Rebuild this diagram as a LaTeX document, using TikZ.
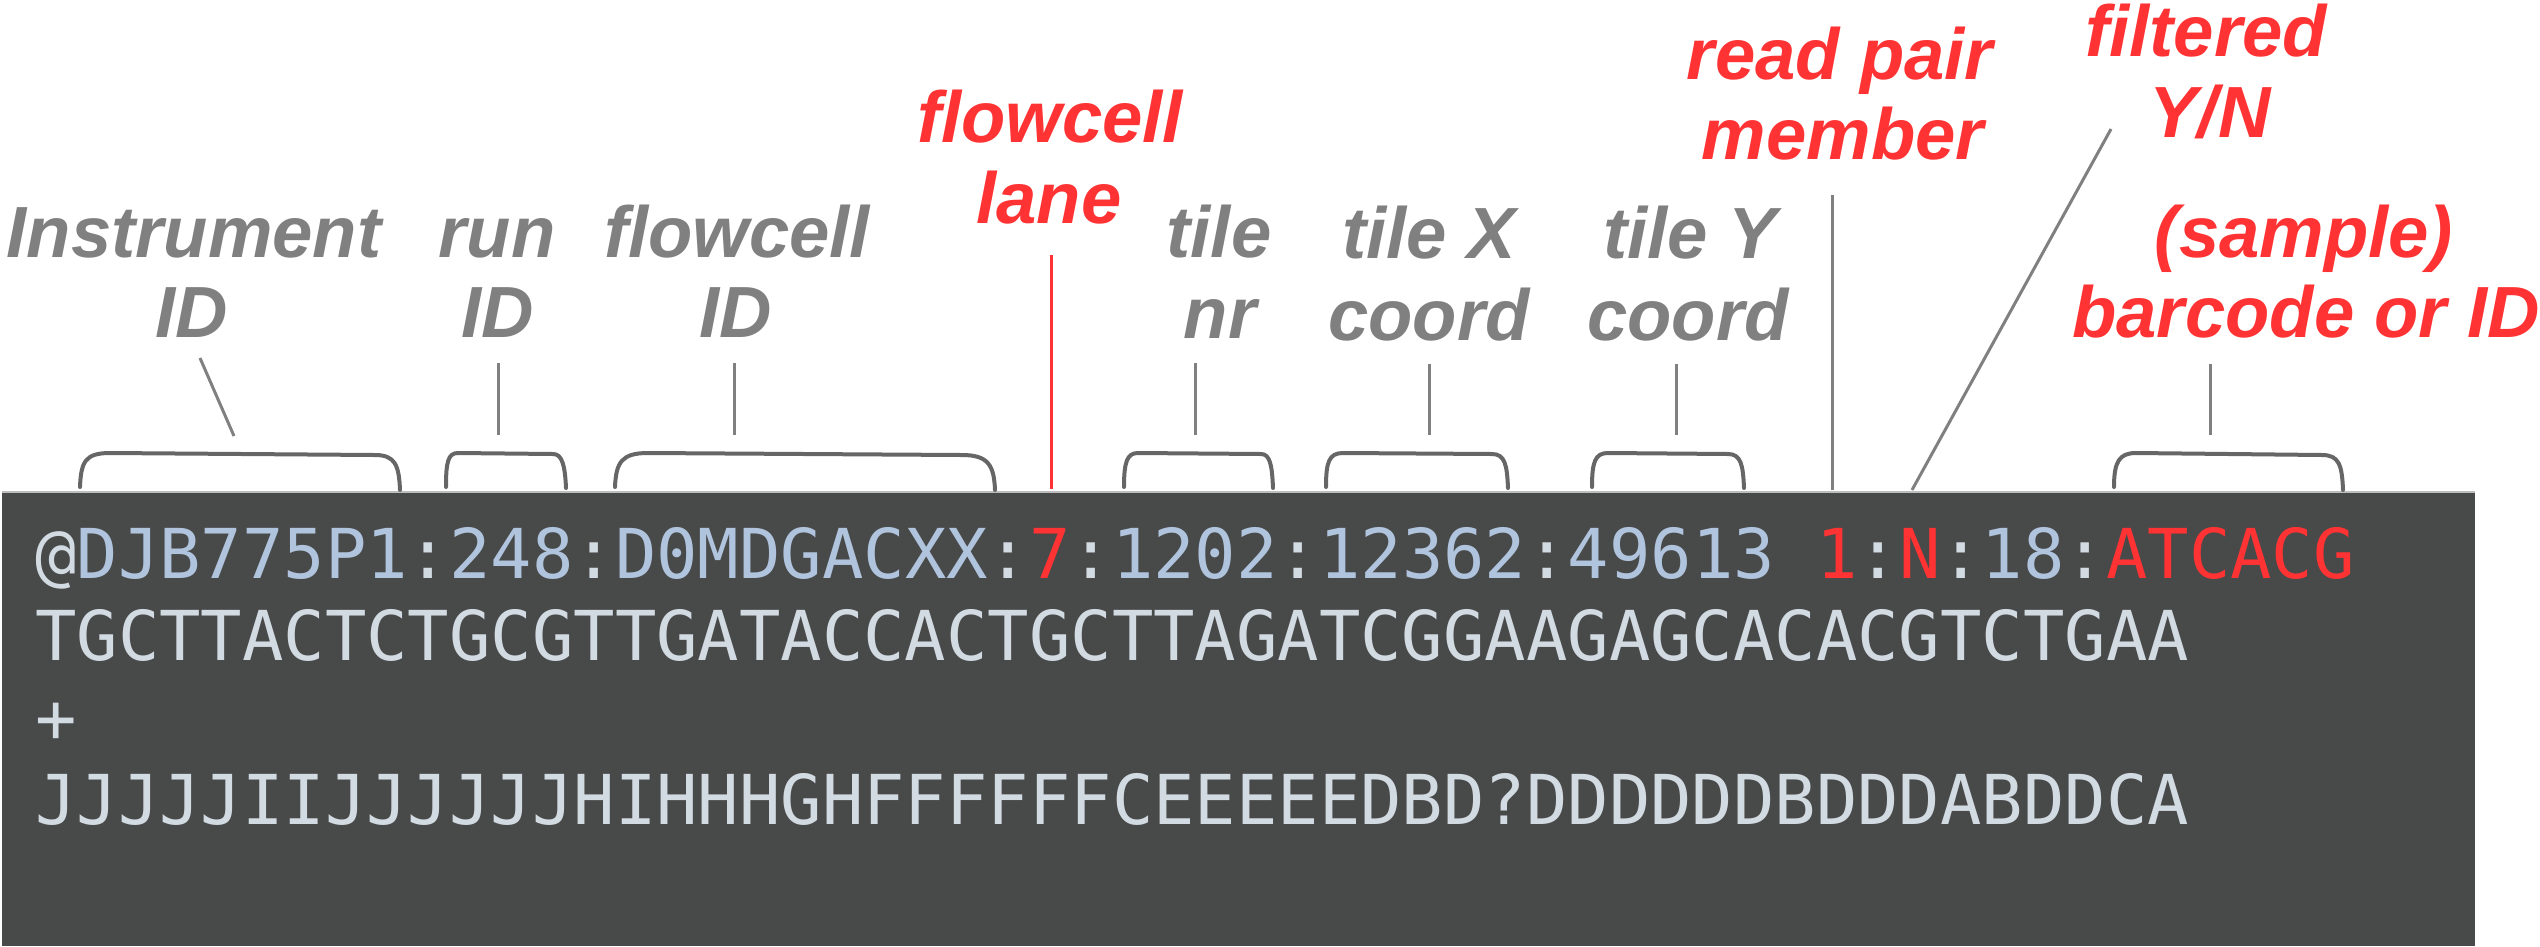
\documentclass[tikz,border=0pt]{standalone}
\usepackage{fontspec}
\setmainfont{Liberation Sans}
\newfontfamily\monof{DejaVu Sans Mono}
\definecolor{boxbg}{HTML}{484949}
\definecolor{boxedge}{HTML}{BDBDBD}
\definecolor{seqblue}{HTML}{B0C4DE}
\definecolor{seqlight}{HTML}{D2DAE2}
\definecolor{hired}{HTML}{FF3333}
\definecolor{labgray}{HTML}{808080}
\definecolor{bracegray}{HTML}{666666}
\newcommand{\Lt}[1]{\textcolor{seqlight}{#1}}
\newcommand{\Bl}[1]{\textcolor{seqblue}{#1}}
\newcommand{\Rd}[1]{\textcolor{hired}{#1}}
\tikzset{
  lab/.style={font=\fontsize{72.5}{80}\selectfont\bfseries\itshape, inner sep=0pt, anchor=base},
  glab/.style={lab, text=labgray},
  rlab/.style={lab, text=hired},
  seq/.style={font=\monof\fontsize{68.8}{82}\selectfont, inner sep=0pt, anchor=base west, text=seqlight},
  conn/.style={draw=labgray, line width=3pt},
  rconn/.style={draw=hired, line width=3pt},
  bracket/.style={draw=bracegray, line width=4pt, line cap=round, line join=round},
}
\begin{document}
\begin{tikzpicture}[x=1pt,y=-1pt]
\useasboundingbox (0,0) rectangle (2540,946);
% dark box
\fill[boxbg] (2,492) rectangle (2475,946);
\draw[boxedge, line width=2pt] (2,492) -- (2475,492);

% sequence text
\node[seq] (l1) at (35,578) {\Lt{@}\Bl{DJB775P1}\Lt{:}\Bl{248}\Lt{:}\Bl{D0MDGACXX}\Lt{:}\Rd{7}\Lt{:}\Bl{1202}\Lt{:}\Bl{12362}\Lt{:}\Bl{49613} \Rd{1}\Lt{:}\Rd{N}\Lt{:}\Bl{18}\Lt{:}\Rd{ATCACG}};
\node[seq] (l2) at (35,660) {TGCTTACTCTGCGTTGATACCACTGCTTAGATCGGAAGAGCACACGTCTGAA};
\node[seq] (l3) at (35,742) {+};
\node[seq] (l4) at (35,824) {JJJJJIIJJJJJJHIHHHGHFFFFFFCEEEEEDBD?DDDDDDBDDDABDDCA};

% labels
\node[glab] (inst1) at (194,257) {Instrument};
\node[glab] (inst2) at (192,337) {ID};
\node[glab] (run1) at (497,257) {run};
\node[glab] (run2) at (498,337) {ID};
\node[glab] (fc1) at (737,257) {flowcell};
\node[glab] (fc2) at (736,337) {ID};
\node[rlab] (lane1) at (1050,142) {flowcell};
\node[rlab] (lane2) at (1049,223) {lane};
\node[glab] (tile1) at (1219,257) {tile};
\node[glab] (tile2) at (1220,338) {nr};
\node[glab] (tx1) at (1429,258) {tile X};
\node[glab] (tx2) at (1429,340) {coord};
\node[glab] (ty1) at (1690,258) {tile Y};
\node[glab] (ty2) at (1688,340) {coord};
\node[rlab] (rp1) at (1840,79) {read pair};
\node[rlab] (rp2) at (1843,159) {member};
\node[rlab] (fl1) at (2206,56) {filtered};
\node[rlab] (fl2) at (2210,137) {Y/N};
\node[rlab] (bc1) at (2304,257) {(sample)};
\node[rlab] (bc2) at (2306,337) {barcode or ID};

% connector end points
\coordinate (instA) at (200,358); \coordinate (instB) at (234,436);
\coordinate (runA) at (498,363);  \coordinate (runB) at (498,435);
\coordinate (fcA) at (734,363);   \coordinate (fcB) at (734,435);
\coordinate (laneA) at (1051,255); \coordinate (laneB) at (1051,489);
\coordinate (tileA) at (1195,363); \coordinate (tileB) at (1195,435);
\coordinate (txA) at (1429,364);  \coordinate (txB) at (1429,435);
\coordinate (tyA) at (1676,364);  \coordinate (tyB) at (1676,435);
\coordinate (rpA) at (1832,195);  \coordinate (rpB) at (1832,490);
\coordinate (flA) at (2111,129);  \coordinate (flB) at (1912,490);
\coordinate (bcA) at (2210,364);  \coordinate (bcB) at (2210,435);

\draw[conn] (instA) -- (instB);
\draw[conn] (runA) -- (runB);
\draw[conn] (fcA) -- (fcB);
\draw[rconn] (laneA) -- (laneB);
\draw[conn] (tileA) -- (tileB);
\draw[conn] (txA) -- (txB);
\draw[conn] (tyA) -- (tyB);
\draw[conn] (rpA) -- (rpB);
\draw[conn] (flA) -- (flB);
\draw[conn] (bcA) -- (bcB);

% brackets
\draw[bracket] (80,487) .. controls (81,462) and (85,453) .. (110,453) -- (375,455) .. controls (395,455) and (399,465) .. (400,490);
\draw[bracket] (446,487) .. controls (446,462) and (448,453) .. (458,453) -- (553,454) .. controls (562,454) and (565,465) .. (566,488);
\draw[bracket] (615,487) .. controls (616,462) and (622,453) .. (648,453) -- (962,455) .. controls (988,455) and (994,465) .. (995,490);
\draw[bracket] (1124,487) .. controls (1124,462) and (1127,453) .. (1138,453) -- (1261,454) .. controls (1270,454) and (1272,465) .. (1273,488);
\draw[bracket] (1326,487) .. controls (1326,462) and (1329,453) .. (1343,453) -- (1492,454) .. controls (1505,454) and (1507,465) .. (1508,488);
\draw[bracket] (1592,487) .. controls (1592,462) and (1595,453) .. (1608,453) -- (1728,454) .. controls (1741,454) and (1743,465) .. (1744,488);
\draw[bracket] (2114,487) .. controls (2114,462) and (2119,453) .. (2136,453) -- (2322,455) .. controls (2339,455) and (2342,465) .. (2343,490);
\end{tikzpicture}
\end{document}
